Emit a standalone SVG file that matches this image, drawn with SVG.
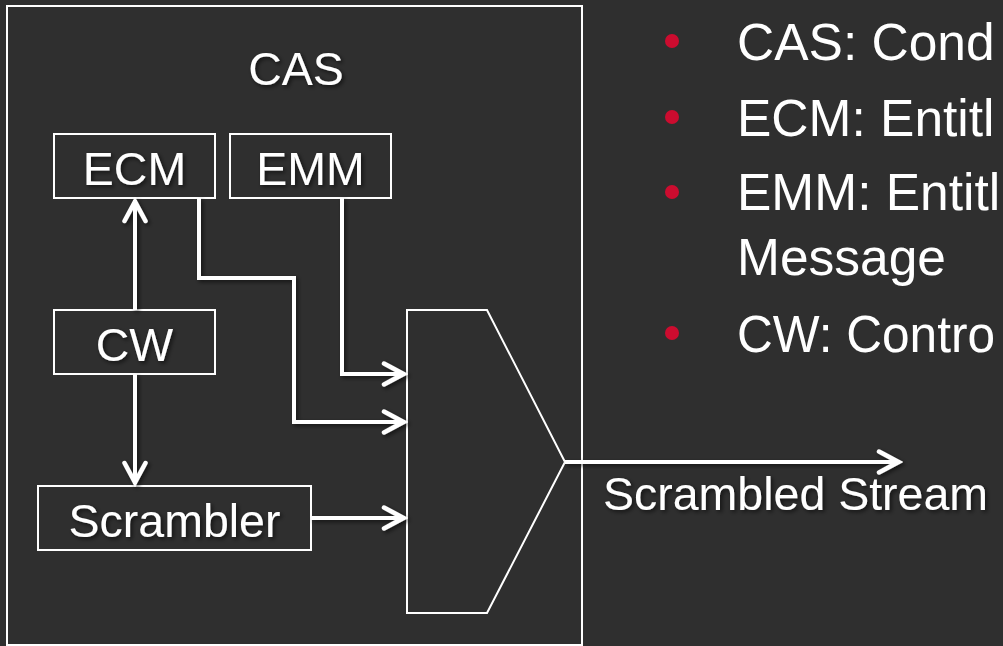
<svg xmlns="http://www.w3.org/2000/svg" width="1003" height="646" viewBox="0 0 1003 646">
<style>
.bg{fill:#2f2f2f}
.box{fill:none;stroke:#ffffff;stroke-width:2}
.lbl{font-family:"Liberation Sans",Arial,sans-serif;font-size:46.5px;fill:#ffffff;text-anchor:middle}
.bul{font-family:"Liberation Sans",Arial,sans-serif;font-size:51.5px;fill:#ffffff}
.dot{fill:#cc0c2f}
.con{fill:none;stroke:#ffffff;stroke-width:4}
</style>
<defs>
<filter id="sh" x="-20%" y="-20%" width="140%" height="140%">
<feDropShadow dx="2" dy="2" stdDeviation="2" flood-color="#000" flood-opacity="0.6"/>
</filter>
<marker id="arr" viewBox="-26 -15 29 30" refX="0" refY="0" markerWidth="29" markerHeight="30" markerUnits="userSpaceOnUse" orient="auto">
<path d="M-21,-10.5 L-1.5,0 L-21,10.5" fill="none" stroke="#ffffff" stroke-width="4.5" stroke-linecap="round"/>
</marker>
</defs>
<rect class="bg" x="0" y="0" width="1003" height="646"/>
<g id="cas">
<rect class="box" x="7" y="6" width="575" height="639"/>
<text class="lbl" x="296" y="85" filter="url(#sh)">CAS</text>
</g>
<g id="ecm">
<rect class="box" x="54" y="134" width="161" height="64"/>
<text class="lbl" x="134.5" y="185" filter="url(#sh)">ECM</text>
</g>
<g id="emm">
<rect class="box" x="230" y="134" width="161" height="64"/>
<text class="lbl" x="310.5" y="185" filter="url(#sh)">EMM</text>
</g>
<g id="cw">
<rect class="box" x="54" y="310" width="161" height="64"/>
<text class="lbl" x="134.5" y="361" filter="url(#sh)">CW</text>
</g>
<g id="scrambler">
<rect class="box" x="38" y="486" width="273" height="64"/>
<text class="lbl" x="174.5" y="537" filter="url(#sh)">Scrambler</text>
</g>
<g id="mux">
<polygon class="box" points="407,310 487,310 565,462 487,613 407,613"/>
</g>
<g id="connectors" filter="url(#sh)">
<path class="con" d="M135,310 V200" marker-end="url(#arr)"/>
<path class="con" d="M135,374 V484" marker-end="url(#arr)"/>
<path class="con" d="M342,198 V374 H405" marker-end="url(#arr)"/>
<path class="con" d="M199,198 V278 H294 V422 H405" marker-end="url(#arr)"/>
<path class="con" d="M311,518 H405" marker-end="url(#arr)"/>
<path class="con" d="M565,462 H900" marker-end="url(#arr)"/>
</g>
<g id="output-label">
<text class="lbl" x="603" y="510" style="text-anchor:start" filter="url(#sh)">Scrambled Stream</text>
</g>
<g id="legend">
<circle class="dot" cx="672" cy="41" r="7"/>
<text class="bul" x="737" y="60">CAS: Cond</text>
<circle class="dot" cx="672" cy="117" r="7"/>
<text class="bul" x="737" y="136">ECM: Entitl</text>
<circle class="dot" cx="672" cy="192" r="7"/>
<text class="bul" x="737" y="210">EMM: Entitl</text>
<text class="bul" x="737" y="275">Message</text>
<circle class="dot" cx="672" cy="333" r="7"/>
<text class="bul" x="737" y="352" textLength="258" lengthAdjust="spacingAndGlyphs">CW: Contro</text>
</g>
</svg>
